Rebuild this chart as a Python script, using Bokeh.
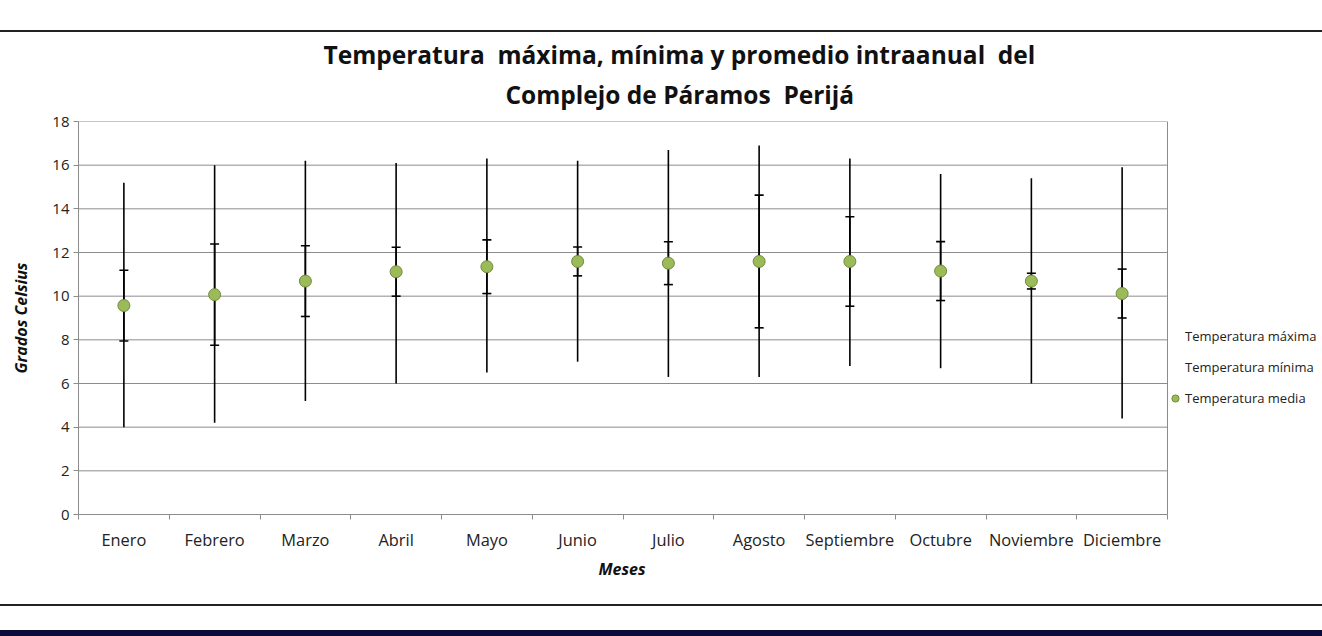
from bokeh.plotting import figure
from bokeh.models import (ColumnDataSource, FixedTicker, Legend, LegendItem, Title, Div)
from bokeh.layouts import column
from bokeh.embed import file_html
from bokeh.resources import INLINE

# ---- data ----
meses = ["Enero", "Febrero", "Marzo", "Abril", "Mayo", "Junio", "Julio",
         "Agosto", "Septiembre", "Octubre", "Noviembre", "Diciembre"]
t_maxima = [15.2, 16.0, 16.2, 16.1, 16.3, 16.2, 16.7, 16.9, 16.3, 15.6, 15.4, 15.9]
t_minima = [4.0, 4.2, 5.2, 6.0, 6.5, 7.0, 6.3, 6.3, 6.8, 6.7, 6.0, 4.4]
t_media = [9.57, 10.07, 10.69, 11.12, 11.35, 11.59, 11.51, 11.59, 11.59, 11.15, 10.69, 10.12]
desviacion = [1.62, 2.32, 1.62, 1.12, 1.23, 0.66, 0.98, 3.04, 2.05, 1.35, 0.36, 1.12]
y_ticks = [0, 2, 4, 6, 8, 10, 12, 14, 16, 18]

FONT = "Open Sans"
GRID = "#8c8c8c"
W = 1322
PLOT_W = 1089          # width of the plotting area proper
FRAME_W = W - 78       # frame extended to the right edge to host the legend
n = len(meses)
x_end = n * FRAME_W / PLOT_W

xpos = [i + 0.5 for i in range(n)]
src = ColumnDataSource(dict(
    x=xpos, mes=meses, tmax=t_maxima, tmin=t_minima, media=t_media,
    sup=[m + d for m, d in zip(t_media, desviacion)],
    inf=[m - d for m, d in zip(t_media, desviacion)],
))

p = figure(width=W, height=572, frame_width=FRAME_W, frame_height=393,
           output_backend="svg", toolbar_location=None,
           x_range=(0, x_end), y_range=(0, 18), title=None,
           min_border_left=78, min_border_right=0, min_border_top=89,
           min_border_bottom=90, margin=0)
p.background_fill_color = "white"
p.border_fill_color = "white"
p.outline_line_color = None

# titles (line 2 first: closest to the plot)
t2 = Title(text="Complejo de Páramos\u00a0 Perijá", align="left", offset=427,
           text_font=FONT, text_font_size="24.5px", text_font_style="bold",
           text_color="#111111", standoff=21)
t1 = Title(text="Temperatura\u00a0 máxima, mínima y promedio intraanual\u00a0 del",
           align="left", offset=245, text_font=FONT, text_font_size="24.5px",
           text_font_style="bold", text_color="#111111", standoff=-10)
p.add_layout(t2, "above")
p.add_layout(t1, "above")

# horizontal gridlines and right border of the plotting area
p.segment(x0=[0] * len(y_ticks), y0=y_ticks, x1=[n] * len(y_ticks), y1=y_ticks,
          line_color=GRID, line_width=1)
p.segment(x0=[n], y0=[0], x1=[n], y1=[18], line_color=GRID, line_width=1)

# high-low lines
p.segment(x0="x", y0="tmin", x1="x", y1="tmax", source=src, line_color="black",
          line_width=1.6)
# error bars of the mean
p.segment(x0="x", y0="inf", x1="x", y1="sup", source=src, line_color="black",
          line_width=1.6)
p.scatter(x="x", y="sup", source=src, marker="dash", size=9, line_color="black",
          line_width=1.6)
p.scatter(x="x", y="inf", source=src, marker="dash", size=9, line_color="black",
          line_width=1.6)

r_max = p.scatter(x="x", y="tmax", source=src, size=1, alpha=0)
r_min = p.scatter(x="x", y="tmin", source=src, size=1, alpha=0)
r_med = p.scatter(x="x", y="media", source=src, size=12, fill_color="#9BBB59",
                  line_color="#71893F", line_width=1)

# axes
p.yaxis.ticker = FixedTicker(ticks=y_ticks)
p.yaxis.major_tick_out = 5
p.yaxis.major_tick_in = 0
p.yaxis.minor_tick_out = 0
p.yaxis.minor_tick_in = 0
p.yaxis.axis_line_color = GRID
p.yaxis.major_tick_line_color = GRID
p.yaxis.major_label_text_font = FONT
p.yaxis.major_label_text_font_size = "15px"
p.yaxis.major_label_text_color = "#222222"
p.yaxis.major_label_standoff = 4
p.yaxis.axis_label = "Grados Celsius"
p.yaxis.axis_label_text_font = FONT
p.yaxis.axis_label_text_font_size = "16px"
p.yaxis.axis_label_text_font_style = "bold italic"
p.yaxis.axis_label_text_color = "#111111"
p.yaxis.axis_label_standoff = 17

p.xaxis.bounds = (0, n)
p.xaxis.ticker = FixedTicker(ticks=xpos, minor_ticks=list(range(n + 1)))
p.xaxis.major_label_overrides = {x: m for x, m in zip(xpos, meses)}
p.xaxis.major_tick_out = 0
p.xaxis.major_tick_in = 0
p.xaxis.minor_tick_out = 5
p.xaxis.minor_tick_in = 0
p.xaxis.minor_tick_line_color = GRID
p.xaxis.axis_line_color = GRID
p.xaxis.major_label_text_font = FONT
p.xaxis.major_label_text_font_size = "16.4px"
p.xaxis.major_label_text_color = "#222222"
p.xaxis.major_label_standoff = 8

# x-axis title, centred under the plotting area (not under the legend)
x_title = Title(text="Meses", align="left", offset=520, vertical_align="top",
                text_font=FONT, text_font_size="16px",
                text_font_style="bold italic", text_color="#111111", standoff=8)
p.add_layout(x_title, "below")

p.xgrid.visible = False
p.ygrid.visible = False

legend = Legend(items=[
    LegendItem(label="Temperatura máxima", renderers=[r_max]),
    LegendItem(label="Temperatura mínima", renderers=[r_min]),
    LegendItem(label="Temperatura media", renderers=[r_med]),
], location=(1088, 106), glyph_width=18, glyph_height=20, label_standoff=1,
    label_text_font=FONT, label_text_font_size="13px", label_text_color="#222222",
    label_height=20, spacing=11, padding=0, margin=0, border_line_color=None,
    background_fill_alpha=0)
p.add_layout(legend, "center")

# page frame: rules above and below the chart, navy band at the bottom
gap_top = Div(text="", width=W, height=30, margin=0)
rule_top = Div(text="", width=W, height=2, margin=0,
               styles={"background-color": "#222222"})
rule_bot = Div(text="", width=W, height=2, margin=0,
               styles={"background-color": "#222222"})
gap_bot = Div(text="", width=W, height=24, margin=0)
band = Div(text="", width=W, height=6, margin=0,
           styles={"background-color": "#0c0c3a"})

page = column(gap_top, rule_top, p, rule_bot, gap_bot, band, spacing=0, margin=0)

open("out.html", "w").write(file_html(page, INLINE))
